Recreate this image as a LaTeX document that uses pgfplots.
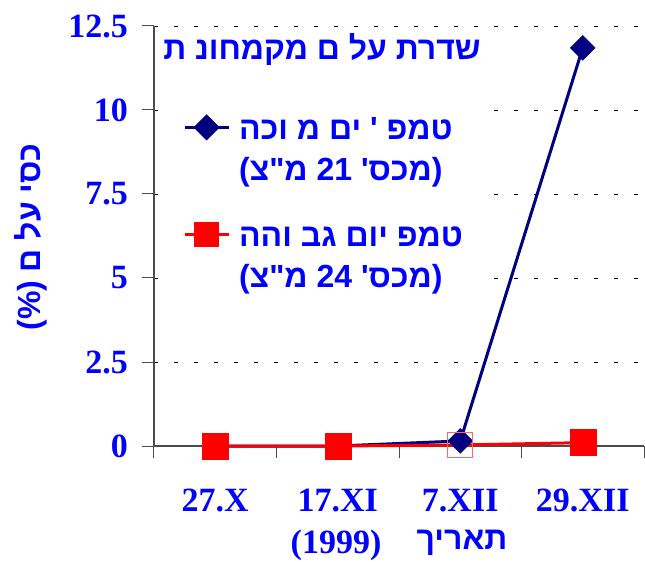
\documentclass[border=0pt]{standalone}
\usepackage{fontspec}
\setmainfont{Liberation Serif}
\newfontfamily\heb[Script=Hebrew,Ligatures=TeXOff]{Liberation Sans}
\usepackage{pgfplots}
\usepackage{pgfplotstable}
\pgfplotsset{compat=1.18}
\TeXXeTstate=1
\definecolor{navyline}{HTML}{000080}
\definecolor{labelblue}{HTML}{0000FF}
\newcommand{\bigfont}{\fontsize{34}{41}\selectfont}
\newcommand{\hebfont}{\fontsize{32}{41}\selectfont}
\newcommand{\hb}[1]{{\heb\bfseries\beginR #1\endR}}

% low day temperature (max 21 C)
\pgfplotstableread{
x y
1 0
2 0
3 0.15
4 11.85
}\lowtemp
% high day temperature (max 24 C)
\pgfplotstableread{
x y
1 0
2 0
3 0.03
4 0.1
}\hightemp

\begin{document}
\begin{tikzpicture}
\path[use as bounding box] (-154pt,-116pt) rectangle (491pt,446pt);
\begin{axis}[
  at={(0,0)}, anchor=south west,
  scale only axis, width=490pt, height=420pt,
  xmin=0.5, xmax=4.5, ymin=0, ymax=12.5,
  axis x line*=bottom, axis y line*=left,
  axis line style={black!70, line width=1.2pt},
  xtick={1,2,3,4},
  xticklabels={27.X,17.XI,7.XII,29.XII},
  major x tick style={draw=none},
  minor xtick={0.5,1.5,2.5,3.5,4.5},
  ytick={0,2.5,5,7.5,10,12.5},
  yticklabels={0,2.5,5,7.5,10,12.5},
  tick align=outside,
  major tick length=12pt, minor tick length=12pt,
  tick style={black!70, line width=1pt},
  ymajorgrids,
  grid style={black, line width=0.8pt, dash pattern=on 4pt off 16pt},
  xticklabel style={font=\bfseries\bigfont, text=labelblue, anchor=base, inner sep=0pt, yshift=-53pt},
  yticklabel style={font=\bfseries\bigfont, text=labelblue, anchor=east, inner sep=0pt, xshift=-14pt},
  clip=false,
  legend image code/.code={\draw[mark repeat=2, mark phase=2, #1] plot coordinates {(0pt,53pt) (22pt,53pt) (44pt,53pt)};},
  legend style={at={(axis description cs:0.008,0.818)}, anchor=north west,
    draw=none, fill=white, inner xsep=25pt, inner ysep=8pt,
    cells={anchor=base west}, nodes={inner sep=0pt}, column sep=9pt, row sep=36pt,
    font=\hebfont, text=labelblue},
]
\addplot[navyline, line width=3pt, forget plot] table[x=x, y=y] {\lowtemp};
\addplot[red, line width=3pt, forget plot] table[x=x, y=y] {\hightemp};
\addplot[only marks, mark=square*, mark size=8.8pt, mark options={rotate=45, fill=navyline, draw=navyline}, forget plot] table[x=x, y=y] {\lowtemp};
\addplot[only marks, mark=square*, mark size=13pt, mark options={fill=red, draw=red}, mark indices={1,2,4}, forget plot] table[x=x, y=y] {\hightemp};
\addplot[only marks, mark=square, mark size=12.5pt, mark options={draw=red!60, line width=1pt}, mark indices={3}, forget plot] table[x=x, y=y] {\hightemp};
\addlegendimage{navyline, line width=3pt, mark=square*, mark size=7.8pt, mark options={rotate=45, fill=navyline, draw=navyline}}
\addlegendentry{\begin{tabular}[b]{@{}l@{}}\hb{טמפ ' ים מ וכה}\\\hb{(מכס' \beginL21\endL{} מ"צ)}\end{tabular}}
\addlegendimage{red, line width=3pt, mark=square*, mark size=11pt, mark options={fill=red, draw=red}}
\addlegendentry{\begin{tabular}[b]{@{}l@{}}\hb{טמפ  יום גב והה}\\\hb{(מכס' \beginL24\endL{} מ"צ)}\end{tabular}}
\end{axis}
\node[anchor=base, text=labelblue, font=\hebfont, fill=white, inner sep=2pt] at (168pt,386pt) {\hb{שדרת על ם מקמחונ ת}};
\node[rotate=90, text=labelblue, font=\hebfont] at (-123pt,209pt) {\hb{כסי על ם (\%)}};
\node[anchor=base, text=labelblue, font=\bfseries\bigfont, inner sep=0pt] at (182pt,-107pt) {(1999)};
\node[anchor=base, text=labelblue, font=\hebfont, inner sep=0pt] at (308pt,-103pt) {\hb{תאריך}};
\end{tikzpicture}
\end{document}
